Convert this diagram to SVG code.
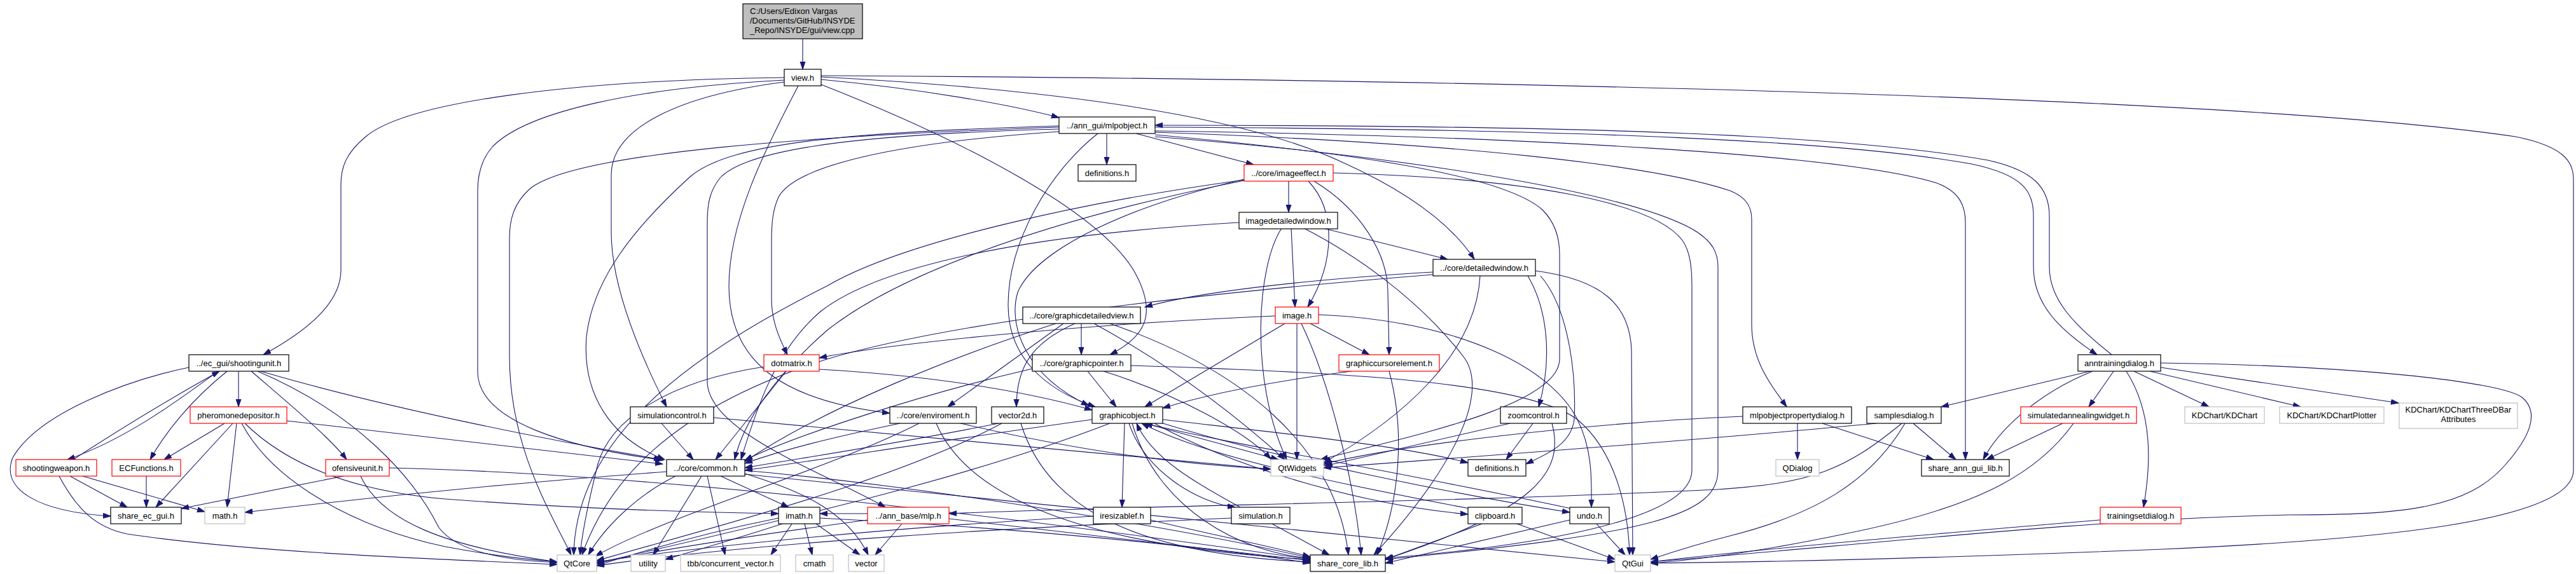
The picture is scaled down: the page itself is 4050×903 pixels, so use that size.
<svg xmlns="http://www.w3.org/2000/svg" width="4050" height="903" viewBox="0 0 4050 903">
<defs>
<marker id="a" markerWidth="13" markerHeight="10" refX="12" refY="4.5" orient="auto" markerUnits="userSpaceOnUse"><path d="M0,0.5 L12,4.5 L0,8.5 z" fill="#191970" stroke="#191970" stroke-width="1"/></marker>
<style>
.e path{fill:none;stroke:#191970;stroke-width:1.1;marker-end:url(#a)}
.nd rect{fill:#fff;stroke:#000;stroke-width:1.2}
.nd.r rect{stroke:#ff0000}
.nd.g rect{stroke:#bfbfbf}
.nd text{font-family:"Liberation Sans",Arial,sans-serif;font-size:13px;fill:#000;text-anchor:middle}
.nd.l text{text-anchor:start}
</style>
</defs>
<rect width="4050" height="903" fill="#fff"/>
<g id="connectors" class="e">
<path d="M1262,61 L1262,109"/>
<path d="M1233,122 C900,126 640,160 575,215 C545,240 536,262 536,290 L536,425 C536,478 480,522 414,558"/>
<path d="M1233,126 C1000,138 830,175 775,230 C757,250 751,275 751,300 L751,585 C751,665 900,705 1043,724"/>
<path d="M1233,129 C1070,150 961,200 961,275 L961,365 C961,455 1010,565 1048,640"/>
<path d="M1255,135 C1200,240 1146,350 1146,450 C1146,570 1230,630 1399,650"/>
<path d="M1291,125 C1450,140 1590,165 1665,185"/>
<path d="M1291,121 C1650,140 1950,180 2110,255 C2210,300 2280,350 2318,408"/>
<path d="M1291,133 C1500,215 1730,330 1785,430 C1820,495 1800,530 1745,558"/>
<path d="M1291,119 C2200,124 3500,148 3955,215 C4040,232 4046,260 4046,285 L4046,740 C4046,822 3720,850 3400,864 C3100,876 2800,884 2595,886"/>
<path d="M1740,210 L1740,259"/>
<path d="M1786,210 L1971,259"/>
<path d="M1816,200 C2500,203 2900,222 3100,258 C3180,275 3197,300 3197,340 L3197,420 C3197,480 3240,520 3297,558"/>
<path d="M3320,558 C3262,512 3222,472 3222,420 L3222,340 C3222,296 3198,268 3125,252 C2900,212 2500,197 1816,197"/>
<path d="M1816,206 C2400,214 2900,243 3045,288 C3082,302 3090,325 3090,350 L3090,723"/>
<path d="M1816,212 C2100,238 2360,272 2425,330 C2447,352 2452,380 2452,400 L2452,565 C2452,640 2200,690 2076,723"/>
<path d="M1816,208 C2300,225 2600,260 2720,300 C2745,310 2754,325 2754,345 L2754,510 C2754,565 2780,600 2809,640"/>
<path d="M1816,215 C2200,245 2550,300 2660,360 C2695,380 2701,400 2701,420 L2701,740 C2701,810 2600,840 2178,880"/>
<path d="M1665,203 C1400,210 1180,228 1132,280 C1116,300 1112,320 1112,350 L1112,600 C1112,680 1300,745 1392,798"/>
<path d="M1665,200 C1300,213 900,238 832,298 C808,320 801,345 801,375 L801,560 C801,700 862,800 898,873"/>
<path d="M1665,198 C1350,208 1150,222 1085,278 C995,360 932,440 922,530 C915,620 960,690 1045,723"/>
<path d="M1665,207 C1400,225 1250,262 1224,310 C1215,330 1213,350 1213,380 L1213,470 C1213,505 1225,532 1238,558"/>
<path d="M1726,210 C1650,270 1585,380 1585,480 C1585,560 1640,612 1722,640"/>
<path d="M2026,285 L2026,334"/>
<path d="M2057,285 C2100,330 2100,410 2056,483"/>
<path d="M2066,285 C2140,330 2182,400 2182,460 L2184,558"/>
<path d="M1956,282 C1750,330 1625,400 1600,460 C1585,510 1610,590 1712,638"/>
<path d="M1956,283 C1700,318 1420,380 1300,450 C1060,570 905,700 902,873"/>
<path d="M1956,284 C1620,350 1400,440 1300,520 C1220,590 1170,660 1155,723"/>
<path d="M2096,272 C2400,280 2600,318 2645,378 C2657,395 2660,420 2660,450 L2660,740 C2660,820 2400,860 2178,878"/>
<path d="M2080,359 L2276,408"/>
<path d="M2030,359 L2036,483"/>
<path d="M2015,359 C1975,420 1965,600 2023,723"/>
<path d="M2050,359 C2130,400 2230,470 2300,560 C2340,610 2300,720 2160,873"/>
<path d="M1948,350 C1600,370 1380,420 1290,490 C1220,550 1190,640 1165,723"/>
<path d="M2253,428 C2050,440 1880,460 1800,483"/>
<path d="M2402,434 C2435,490 2440,570 2419,640"/>
<path d="M2422,434 C2470,490 2478,600 2475,660 C2470,700 2430,715 2399,730"/>
<path d="M2327,434 C2320,560 2200,660 2081,728"/>
<path d="M2414,426 C2520,440 2562,480 2565,550 L2567,873"/>
<path d="M2253,432 C1900,460 1500,505 1300,565 C1050,645 955,760 915,873"/>
<path d="M1672,509 L1490,640"/>
<path d="M1690,509 C1620,540 1598,580 1598,640"/>
<path d="M1700,509 L1700,558"/>
<path d="M1660,509 C1500,560 1300,640 1171,726"/>
<path d="M1720,509 C1850,580 1950,660 2020,723"/>
<path d="M1745,509 C1950,580 2100,700 2120,873"/>
<path d="M2005,497 C1700,510 1400,540 1288,563"/>
<path d="M2060,509 L2153,558"/>
<path d="M2020,509 L1800,640"/>
<path d="M2039,509 L2039,723"/>
<path d="M2046,509 C2090,600 2130,760 2140,873"/>
<path d="M2073,495 C2300,505 2440,580 2480,660 C2505,710 2502,760 2502,798"/>
<path d="M1710,584 L1755,640"/>
<path d="M1735,584 C1850,620 1960,680 1998,722"/>
<path d="M1778,575 C2100,585 2400,600 2480,660 C2540,710 2560,800 2562,873"/>
<path d="M1623,580 C1450,620 1250,685 1171,724"/>
<path d="M1236,584 L1125,723"/>
<path d="M1201,577 C1050,600 960,660 940,730 C925,790 915,840 912,873"/>
<path d="M1288,581 C1450,590 1600,612 1717,645"/>
<path d="M2125,584 C2000,600 1900,620 1828,642"/>
<path d="M2184,584 C2210,680 2200,790 2165,873"/>
<path d="M3286,584 L3052,640"/>
<path d="M3290,584 C3200,620 3140,680 3118,723"/>
<path d="M3323,584 L3284,640"/>
<path d="M3343,584 C3385,650 3382,730 3370,798"/>
<path d="M3355,584 L3473,640"/>
<path d="M3380,584 L3617,640"/>
<path d="M3397,578 L3771,634"/>
<path d="M3397,571 C3700,575 3930,600 3965,625 C3995,650 3975,690 3940,730 C3880,800 3780,810 3600,810 C3300,815 2900,860 2595,884"/>
<path d="M3008,666 L3075,723"/>
<path d="M2950,666 C2700,690 2300,720 2081,736"/>
<path d="M2990,666 C2900,740 2850,760 2700,770 C2300,790 1800,795 1492,808"/>
<path d="M2995,666 C2940,760 2850,810 2720,843 C2660,858 2625,870 2595,880"/>
<path d="M2826,666 L2826,723"/>
<path d="M2865,666 L3040,723"/>
<path d="M2740,655 C2500,665 2200,700 2081,730"/>
<path d="M3243,666 L3123,723"/>
<path d="M3260,666 C3200,750 3100,800 2900,840 C2780,865 2680,880 2595,886"/>
<path d="M3302,818 C3100,835 2800,860 2595,884"/>
<path d="M1415,666 C1300,690 1230,708 1171,729"/>
<path d="M1445,666 C1300,740 1050,810 936,875"/>
<path d="M1472,666 C1520,780 1700,860 2060,880"/>
<path d="M1510,666 C1700,710 1850,730 1998,738"/>
<path d="M1570,666 C1400,700 1250,722 1171,736"/>
<path d="M1575,666 C1400,760 1100,835 938,882"/>
<path d="M1605,666 C1640,780 1750,870 2060,884"/>
<path d="M1768,666 L1764,798"/>
<path d="M1775,666 C1800,740 1880,790 1942,798"/>
<path d="M1717,660 C1500,690 1300,722 1171,740"/>
<path d="M1745,666 C1500,760 1200,825 938,886"/>
<path d="M1800,666 L2010,723"/>
<path d="M1828,660 C2000,680 2200,700 2308,728"/>
<path d="M1815,666 C1950,740 2150,795 2308,809"/>
<path d="M1822,664 C2000,720 2300,780 2468,806"/>
<path d="M1780,666 C1820,800 1950,870 2060,878"/>
<path d="M1950,798 C1880,760 1810,720 1787,666"/>
<path d="M2000,824 L2090,873"/>
<path d="M1936,815 C1600,830 1200,852 938,890"/>
<path d="M2310,800 C2100,760 1900,720 1795,666"/>
<path d="M2330,824 L2178,880"/>
<path d="M2385,824 L2539,880"/>
<path d="M2470,800 C2200,742 1950,702 1800,666"/>
<path d="M2468,818 C2350,845 2250,870 2178,886"/>
<path d="M2510,824 L2555,873"/>
<path d="M1809,818 C1900,840 2000,860 2060,876"/>
<path d="M1719,812 C1400,830 1100,860 938,884"/>
<path d="M1418,824 L1376,873"/>
<path d="M1364,808 L1289,808"/>
<path d="M1364,818 C1200,840 1000,870 938,887"/>
<path d="M1492,816 C1700,840 1950,870 2060,882"/>
<path d="M1230,824 C1150,850 1080,870 1046,880"/>
<path d="M1245,824 L1212,873"/>
<path d="M1265,824 L1277,873"/>
<path d="M1283,824 L1352,873"/>
<path d="M1224,815 C1100,840 1000,870 938,890"/>
<path d="M1289,815 C1600,830 1900,860 2060,886"/>
<path d="M1062,749 C1000,780 950,830 925,873"/>
<path d="M1103,749 L1027,873"/>
<path d="M1112,749 L1140,873"/>
<path d="M1133,749 L1240,798"/>
<path d="M1171,745 C1250,770 1330,800 1365,873"/>
<path d="M1048,742 C800,760 600,780 385,806"/>
<path d="M1171,740 C1500,770 1900,840 2060,878"/>
<path d="M1171,746 C1600,790 2200,850 2539,884"/>
<path d="M343,584 C280,630 200,690 106,723"/>
<path d="M357,584 C300,630 260,680 236,723"/>
<path d="M375,584 L375,640"/>
<path d="M395,584 C460,640 520,690 545,723"/>
<path d="M297,578 C200,598 60,650 20,720 C0,770 60,805 174,812"/>
<path d="M410,584 C600,640 850,690 1040,723"/>
<path d="M405,584 C560,650 650,750 690,830 C720,870 800,882 876,885"/>
<path d="M353,666 L258,723"/>
<path d="M366,666 L245,798"/>
<path d="M372,666 L357,798"/>
<path d="M451,662 C700,690 900,712 1042,730"/>
<path d="M385,666 C450,730 550,772 700,785 C900,800 1100,806 1224,808"/>
<path d="M380,666 C430,760 560,830 700,860 C780,875 830,880 876,884"/>
<path d="M115,723 C200,668 280,620 345,584"/>
<path d="M110,749 L200,798"/>
<path d="M130,749 L322,805"/>
<path d="M93,749 C120,800 150,830 200,840 C400,870 700,880 876,888"/>
<path d="M230,749 L230,798"/>
<path d="M540,749 L285,800"/>
<path d="M612,736 C1000,745 1500,800 2060,880"/>
<path d="M567,749 C600,820 700,860 876,884"/>
<path d="M1040,666 L1090,723"/>
<path d="M1122,657 C1500,690 1800,722 1998,738"/>
<path d="M2410,666 L2368,723"/>
<path d="M2374,666 L2083,733"/>
<path d="M2440,666 C2460,740 2420,800 2178,880"/>
</g>
<g id="n_root" class="nd l"><rect x="1168" y="6" width="188" height="55" style="fill:#bfbfbf"/><text x="1179" y="22">C:/Users/Edixon Vargas</text><text x="1179" y="37">/Documents/GitHub/INSYDE</text><text x="1179" y="52">_Repo/INSYDE/gui/view.cpp</text></g>
<g id="n_viewh" class="nd"><rect x="1233" y="109" width="58" height="26"/><text x="1262" y="126.5">view.h</text></g>
<g id="n_mlpobject" class="nd"><rect x="1665" y="184" width="151" height="26"/><text x="1740.5" y="201.5">../ann_gui/mlpobject.h</text></g>
<g id="n_defs1" class="nd"><rect x="1695" y="259" width="91" height="26"/><text x="1740.5" y="276.5">definitions.h</text></g>
<g id="n_imageeffect" class="nd r"><rect x="1956" y="259" width="140" height="26"/><text x="2026" y="276.5">../core/imageeffect.h</text></g>
<g id="n_imgdw" class="nd"><rect x="1948" y="334" width="155" height="26"/><text x="2025.5" y="351.5">imagedetailedwindow.h</text></g>
<g id="n_detw" class="nd"><rect x="2253" y="408" width="161" height="26"/><text x="2333.5" y="425.5">../core/detailedwindow.h</text></g>
<g id="n_gdv" class="nd"><rect x="1608" y="483" width="185" height="26"/><text x="1700.5" y="500.5">../core/graphicdetailedview.h</text></g>
<g id="n_image" class="nd r"><rect x="2005" y="483" width="68" height="26"/><text x="2039" y="500.5">image.h</text></g>
<g id="n_shootu" class="nd"><rect x="297" y="558" width="157" height="26"/><text x="375.5" y="575.5">../ec_gui/shootingunit.h</text></g>
<g id="n_gptr" class="nd"><rect x="1623" y="558" width="155" height="26"/><text x="1700.5" y="575.5">../core/graphicpointer.h</text></g>
<g id="n_dotm" class="nd r"><rect x="1201" y="558" width="87" height="26"/><text x="1244.5" y="575.5">dotmatrix.h</text></g>
<g id="n_gce" class="nd r"><rect x="2105" y="558" width="158" height="26"/><text x="2184" y="575.5">graphiccursorelement.h</text></g>
<g id="n_anntd" class="nd"><rect x="3267" y="558" width="130" height="26"/><text x="3332" y="575.5">anntrainingdialog.h</text></g>
<g id="n_pherom" class="nd r"><rect x="299" y="640" width="152" height="26"/><text x="375" y="657.5">pheromonedepositor.h</text></g>
<g id="n_simctl" class="nd"><rect x="991" y="640" width="131" height="26"/><text x="1056.5" y="657.5">simulationcontrol.h</text></g>
<g id="n_env" class="nd"><rect x="1399" y="640" width="136" height="26"/><text x="1467" y="657.5">../core/enviroment.h</text></g>
<g id="n_vec2d" class="nd"><rect x="1559" y="640" width="82" height="26"/><text x="1600" y="657.5">vector2d.h</text></g>
<g id="n_gobj" class="nd"><rect x="1717" y="640" width="111" height="26"/><text x="1772.5" y="657.5">graphicobject.h</text></g>
<g id="n_zoomc" class="nd"><rect x="2359" y="640" width="104" height="26"/><text x="2411" y="657.5">zoomcontrol.h</text></g>
<g id="n_mlpopd" class="nd"><rect x="2740" y="640" width="171" height="26"/><text x="2825.5" y="657.5">mlpobjectpropertydialog.h</text></g>
<g id="n_samples" class="nd"><rect x="2935" y="640" width="117" height="26"/><text x="2993.5" y="657.5">samplesdialog.h</text></g>
<g id="n_sawidget" class="nd r"><rect x="3177" y="640" width="182" height="26"/><text x="3268" y="657.5">simulatedannealingwidget.h</text></g>
<g id="n_kdchart" class="nd g"><rect x="3435" y="640" width="125" height="26"/><text x="3497.5" y="657.5">KDChart/KDChart</text></g>
<g id="n_kdplot" class="nd g"><rect x="3584" y="640" width="164" height="26"/><text x="3666" y="657.5">KDChart/KDChartPlotter</text></g>
<g id="n_kd3d" class="nd g"><rect x="3772" y="634" width="186" height="40"/><text x="3865" y="649">KDChart/KDChartThreeDBar</text><text x="3865" y="664">Attributes</text></g>
<g id="n_shootw" class="nd r"><rect x="25" y="723" width="127" height="26"/><text x="88.5" y="740.5">shootingweapon.h</text></g>
<g id="n_ecf" class="nd r"><rect x="176" y="723" width="108" height="26"/><text x="230" y="740.5">ECFunctions.h</text></g>
<g id="n_ofens" class="nd r"><rect x="512" y="723" width="100" height="26"/><text x="562" y="740.5">ofensiveunit.h</text></g>
<g id="n_common" class="nd"><rect x="1048" y="723" width="123" height="26"/><text x="1109.5" y="740.5">../core/common.h</text></g>
<g id="n_qtwidgets" class="nd g"><rect x="1998" y="723" width="83" height="26"/><text x="2039.5" y="740.5">QtWidgets</text></g>
<g id="n_defs2" class="nd"><rect x="2308" y="723" width="91" height="26"/><text x="2353.5" y="740.5">definitions.h</text></g>
<g id="n_qdialog" class="nd g"><rect x="2792" y="723" width="68" height="26"/><text x="2826" y="740.5">QDialog</text></g>
<g id="n_shareann" class="nd"><rect x="3021" y="723" width="138" height="26"/><text x="3090" y="740.5">share_ann_gui_lib.h</text></g>
<g id="n_shareec" class="nd"><rect x="174" y="798" width="111" height="26"/><text x="229.5" y="815.5">share_ec_gui.h</text></g>
<g id="n_math" class="nd g"><rect x="322" y="798" width="63" height="26"/><text x="353.5" y="815.5">math.h</text></g>
<g id="n_imath" class="nd"><rect x="1224" y="798" width="65" height="26"/><text x="1256.5" y="815.5">imath.h</text></g>
<g id="n_mlp" class="nd r"><rect x="1364" y="798" width="128" height="26"/><text x="1428" y="815.5">../ann_base/mlp.h</text></g>
<g id="n_iresz" class="nd"><rect x="1719" y="798" width="90" height="26"/><text x="1764" y="815.5">iresizablef.h</text></g>
<g id="n_simul" class="nd"><rect x="1936" y="798" width="92" height="26"/><text x="1982" y="815.5">simulation.h</text></g>
<g id="n_clip" class="nd"><rect x="2308" y="798" width="85" height="26"/><text x="2350.5" y="815.5">clipboard.h</text></g>
<g id="n_undo" class="nd"><rect x="2468" y="798" width="62" height="26"/><text x="2499" y="815.5">undo.h</text></g>
<g id="n_trainset" class="nd r"><rect x="3302" y="798" width="127" height="26"/><text x="3365.5" y="815.5">trainingsetdialog.h</text></g>
<g id="n_qtcore" class="nd g"><rect x="876" y="873" width="62" height="26"/><text x="907" y="890.5">QtCore</text></g>
<g id="n_utility" class="nd g"><rect x="992" y="873" width="54" height="26"/><text x="1019" y="890.5">utility</text></g>
<g id="n_tbb" class="nd g"><rect x="1070" y="873" width="157" height="26"/><text x="1148.5" y="890.5">tbb/concurrent_vector.h</text></g>
<g id="n_cmath" class="nd g"><rect x="1251" y="873" width="59" height="26"/><text x="1280.5" y="890.5">cmath</text></g>
<g id="n_vector" class="nd g"><rect x="1334" y="873" width="56" height="26"/><text x="1362" y="890.5">vector</text></g>
<g id="n_sharecore" class="nd"><rect x="2060" y="873" width="118" height="26"/><text x="2119" y="890.5">share_core_lib.h</text></g>
<g id="n_qtgui" class="nd g"><rect x="2539" y="873" width="56" height="26"/><text x="2567" y="890.5">QtGui</text></g>
</svg>
